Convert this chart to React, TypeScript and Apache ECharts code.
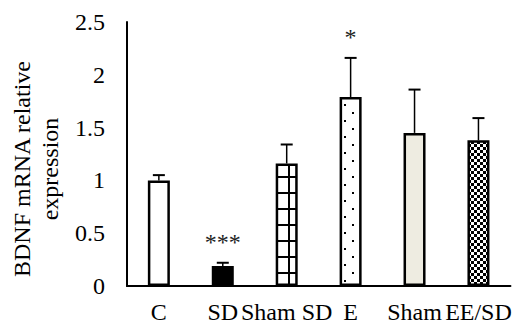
import React, { useEffect, useRef } from 'react';
import * as echarts from 'echarts';

const categories = ['C', 'SD', 'Sham SD', 'E', 'Sham', 'EE/SD'];
const means = [1.0, 0.19, 1.16, 1.79, 1.45, 1.38];
const errors = [0.05, 0.03, 0.18, 0.37, 0.41, 0.21];
const annotations = ['', '***', '', '*', '', ''];
const yMin = 0;
const yMax = 2.5;
const yInterval = 0.5;
const yTitle = 'BDNF mRNA relative\nexpression';

const FONT = '"Liberation Serif", "Times New Roman", serif';
const FS = 24;

function makeCanvas(w: number, h: number, draw: (ctx: CanvasRenderingContext2D) => void) {
  const c = document.createElement('canvas');
  c.width = w;
  c.height = h;
  const ctx = c.getContext('2d')!;
  draw(ctx);
  return c;
}

export default function App() {
  const ref = useRef<HTMLDivElement>(null);
  useEffect(() => {
    if (!ref.current) return;
    const chart = echarts.init(ref.current, null, { renderer: 'svg' });

    const gridTile = makeCanvas(16, 16, (ctx) => {
      ctx.fillStyle = '#fff';
      ctx.fillRect(0, 0, 16, 16);
      ctx.fillStyle = '#000';
      ctx.fillRect(0, 0, 16, 2);
      ctx.fillRect(0, 0, 2, 16);
    });
    const dotTile = makeCanvas(16, 16, (ctx) => {
      ctx.fillStyle = '#fff';
      ctx.fillRect(0, 0, 16, 16);
      ctx.fillStyle = '#000';
      ctx.fillRect(0, 0, 2, 2);
      ctx.fillRect(8, 8, 2, 2);
    });
    const checkTile = makeCanvas(6, 6, (ctx) => {
      ctx.fillStyle = '#fff';
      ctx.fillRect(0, 0, 6, 6);
      ctx.fillStyle = '#000';
      ctx.fillRect(0, 0, 3, 3);
      ctx.fillRect(3, 3, 3, 3);
    });

    const fills: any[] = [
      '#ffffff',
      '#000000',
      { image: gridTile, repeat: 'repeat', imageWidth: 16, imageHeight: 16, x: 4, y: 11 },
      { image: dotTile, repeat: 'repeat', imageWidth: 16, imageHeight: 16, x: 13, y: 4 },
      '#EEECE1',
      { image: checkTile, repeat: 'repeat', imageWidth: 6, imageHeight: 6, x: 0, y: 0 },
    ];

    const option: any = {
      animation: false,
      backgroundColor: '#ffffff',
      grid: { left: 122, right: -1, top: 22, bottom: 40, containLabel: false },
      xAxis: {
        type: 'category',
        data: categories,
        axisLine: { show: true, lineStyle: { color: '#000', width: 2 } },
        axisTick: { show: false },
        axisLabel: {
          interval: 0,
          margin: 14,
          color: '#000',
          fontFamily: FONT,
          fontSize: FS,
        },
        splitLine: { show: false },
      },
      yAxis: {
        type: 'value',
        min: yMin,
        max: yMax,
        interval: yInterval,
        name: yTitle,
        nameLocation: 'middle',
        nameRotate: 90,
        nameGap: 57,
        nameTextStyle: {
          color: '#000',
          fontFamily: FONT,
          fontSize: FS,
          lineHeight: 28,
          padding: [0, 30, 0, 0],
        },
        axisLine: { show: true, lineStyle: { color: '#000', width: 2 } },
        axisTick: { show: false },
        splitLine: { show: false },
        axisLabel: {
          margin: 22,
          color: '#000',
          fontFamily: FONT,
          fontSize: FS,
        },
      },
      series: [
        {
          type: 'bar',
          barWidth: 22,
          data: means.map((v, i) => ({
            value: v,
            itemStyle: { color: fills[i], borderColor: '#000', borderWidth: 2.5 },
          })),
          z: 2,
        },
        {
          type: 'custom',
          z: 3,
          data: means.map((m, i) => [i, m, m + errors[i]]),
          renderItem: (params: any, api: any) => {
            const i = api.value(0);
            const base = api.coord([i, api.value(1)]);
            const top = api.coord([i, api.value(2)]);
            const children: any[] = [
              {
                type: 'line',
                shape: { x1: base[0], y1: base[1], x2: top[0], y2: top[1] },
                style: { stroke: '#000', lineWidth: 1.5 },
              },
              {
                type: 'line',
                shape: { x1: top[0] - 6, y1: top[1], x2: top[0] + 6, y2: top[1] },
                style: { stroke: '#000', lineWidth: 2 },
              },
            ];
            const ann = annotations[params.dataIndex];
            if (ann) {
              children.push({
                type: 'text',
                x: top[0],
                y: top[1] - 21,
                style: {
                  text: ann,
                  fill: '#222',
                  fontFamily: FONT,
                  fontSize: FS,
                  align: 'center',
                  verticalAlign: 'middle',
                },
              });
            }
            return { type: 'group', children };
          },
        },
      ],
    };
    chart.setOption(option);
    return () => chart.dispose();
  }, []);
  return (
    <div
      ref={ref}
      style={{ position: 'absolute', left: 0, top: 0, width: 514, height: 326 }}
    />
  );
}
